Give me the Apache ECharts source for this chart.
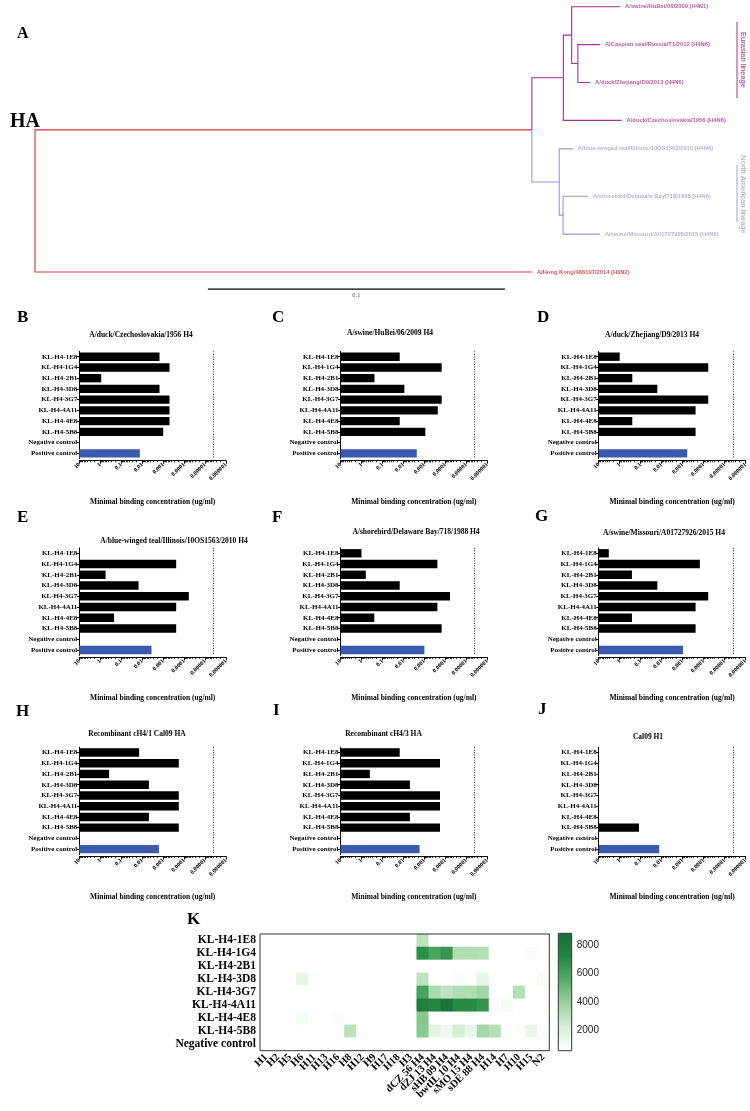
<!DOCTYPE html>
<html><head><meta charset="utf-8">
<script src="https://cdn.jsdelivr.net/npm/echarts@6/dist/echarts.min.js"></script>
<style>html,body{margin:0;padding:0;background:#fff}#c{width:750px;height:1111px}</style>
</head><body><div id="c"></div>
<script>
// ---------------- DATA ----------------
// Panel A: phylogenetic tree (HA)
const treeNodeIds      = ['root','H4','HK','EU','NA','EU1','CZ','EU2','HB','CS','ZJ','BW','NA1','SB','MO'];
const treeParents      = [null,'root','root','H4','H4','EU','EU','EU1','EU1','EU2','EU2','NA','NA','NA1','NA1'];
const treeBranchLength = [0,0.1673,0.1673,0.0106,0.0092,0.0028,0.0196,0.0021,0.0163,0.0074,0.0041,0.0046,0.0013,0.0084,0.0124];
const treeLeafRow      = [null,null,7,null,null,null,3,null,0,1,2,3.75,null,5,6];
const treeClade        = ['root','root','root','eu','na','eu','eu','eu','eu','eu','eu','na','na','na','na'];
const treeLabels       = ['','','A/Hong Kong/486197/2014 (H3N2)','','','','A/duck/Czechoslovakia/1956 (H4N6)','',
  'A/swine/HuBei/06/2009 (H4N1)','A/Caspian seal/Russia/T1/2012 (H4N6)','A/duck/Zhejiang/D9/2013 (H4N6)',
  'A/blue-winged teal/Illinois/10OS1563/2010 (H4N6)','','A/shorebird/Delaware Bay/718/1988 (H4N6)','A/swine/Missouri/A01727926/2015 (H4N6)'];
const scaleBarLength = 0.1;
const lineageNames = ['Eurasian lineage','North American lineage'];

// Panels B-J: minimal binding concentration (ug/ml); null = no binding
const antibodies = ['KL-H4-1E8','KL-H4-1G4','KL-H4-2B1','KL-H4-3D8','KL-H4-3G7','KL-H4-4A11','KL-H4-4E8','KL-H4-5B8','Negative control','Positive control'];
const concTickLabels = ['10','1','0.1','0.01','0.001','0.0001','0.00001','0.000001'];
const detectionLimit = 0.000004;
const panelTitles = ['A/duck/Czechoslovakia/1956 H4','A/swine/HuBei/06/2009 H4','A/duck/Zhejiang/D9/2013 H4',
  'A/blue-winged teal/Illinois/10OS1563/2010 H4','A/shorebird/Delaware Bay/718/1988 H4','A/swine/Missouri/A01727926/2015 H4',
  'Recombinant cH4/1 Cal09 HA','Recombinant cH4/3 HA','Cal09 H1'];
const panelLetters = ['B','C','D','E','F','G','H','I','J'];
const concB = [0.0015,0.0005,0.9,0.0015,0.0005,0.0005,0.0005,0.001,null,0.013];
const concC = [0.015,0.00015,0.24,0.009,0.00015,0.00023,0.015,0.0009,null,0.0023];
const concD = [1,0.00006,0.25,0.016,0.00006,0.00024,0.25,0.00024,null,0.0006];
const concE = [null,0.00024,0.56,0.015,0.00006,0.00024,0.22,0.00024,null,0.0036];
const concF = [1,0.00024,0.62,0.015,0.00006,0.00024,0.245,0.00015,null,0.001];
const concG = [3.3,0.00015,0.26,0.016,0.00006,0.00024,0.26,0.00024,null,0.00095];
const concH = [0.014,0.00018,0.38,0.0048,0.00018,0.00018,0.0048,0.00018,null,0.0016];
const concI = [0.015,0.00018,0.4,0.0049,0.00018,0.00018,0.0049,0.00018,null,0.0017];
const concJ = [null,null,null,null,null,null,null,0.12,null,0.013];
const axisTitle = 'Minimal binding concentration (ug/ml)';

// Panel K: heatmap
const heatCols = ['H1','H2','H5','H6','H11','H13','H16','H8','H12','H9','H17','H18','H3','dCZ 56 H4','dZJ 13 H4','sHB 09 H4','bwtIL 10 H4','sMO 15 H4','sDE 88 H4','H14','H7','H10','H15','N2'];
const heatRows = ['KL-H4-1E8','KL-H4-1G4','KL-H4-2B1','KL-H4-3D8','KL-H4-3G7','KL-H4-4A11','KL-H4-4E8','KL-H4-5B8','Negative control'];
const heat1E8  = [600,600,600,600,600,600,600,600,600,600,600,600,600,3000,600,600,600,600,600,600,600,600,600,600];
const heat1G4  = [600,600,600,600,600,600,600,600,600,600,600,600,600,6800,5900,6500,3300,3300,3200,600,600,600,850,600];
const heat2B1  = [600,600,600,600,600,600,600,600,600,600,600,600,600,600,600,600,600,600,600,600,600,600,600,600];
const heat3D8  = [600,600,600,1600,600,600,600,600,600,600,600,600,600,3000,600,600,850,600,1600,600,600,600,600,900];
const heat3G7  = [600,600,600,600,600,600,600,600,600,600,600,600,600,6000,3400,2900,3300,3300,3700,600,600,3200,600,600];
const heat4A11 = [600,600,600,600,600,600,600,600,600,600,600,600,600,7800,7200,8400,7000,7000,6600,600,950,600,600,600];
const heat4E8  = [600,600,600,1000,600,600,800,600,600,600,600,600,600,4400,600,600,600,600,600,600,600,600,600,600];
const heat5B8  = [600,600,600,600,600,600,600,3000,600,600,600,600,600,4300,1700,1300,2300,1500,3600,3200,600,600,1500,600];
const heatNeg  = [600,600,600,600,600,600,600,600,600,600,600,600,600,600,600,600,600,600,600,600,600,600,600,600];
const heatScaleMin = 587, heatScaleMax = 8827;
const heatScaleTicks = [2000,4000,6000,8000];

// ---------------- CHART ----------------
const SERIF = '"Liberation Serif","Times New Roman",serif';
const SANS = '"Liberation Sans",Arial,sans-serif';
const chart = echarts.init(document.getElementById('c'), null, {renderer:'canvas', width:750, height:1111});
const option = {animation:false, backgroundColor:'#fff', grid:[], xAxis:[], yAxis:[], series:[], graphic:[], visualMap:[]};

// ---- Panel A tree ----
const cladeColor = {root:'#d8353b', eu:'#a8328a', na:'#9d96d6'};
const cladeText  = {root:'#d3262b', eu:'#a8328a', na:'#a49dd8'};
option.grid.push({left:35, top:6.7, width:594, height:265.3});
option.xAxis.push({gridIndex:0, type:'value', min:0, max:0.2, show:false});
option.yAxis.push({gridIndex:0, type:'value', min:0, max:7, inverse:true, show:false});
const nN = treeNodeIds.length;
const tIdx = id => treeNodeIds.indexOf(id);
const tx = new Array(nN), ty = new Array(nN);
for (let i = 0; i < nN; i++) { const p = treeParents[i]; tx[i] = (p === null ? 0 : tx[tIdx(p)]) + treeBranchLength[i]; }
for (let i = nN - 1; i >= 0; i--) {
  if (treeLeafRow[i] !== null) ty[i] = treeLeafRow[i];
  else { const ch = []; for (let j = 0; j < nN; j++) if (treeParents[j] === treeNodeIds[i]) ch.push(ty[j]); ty[i] = (Math.min(...ch) + Math.max(...ch)) / 2; }
}
const branchData = [];
for (let i = 0; i < nN; i++) {
  if (treeParents[i] === null) continue;
  const p = tIdx(treeParents[i]);
  branchData.push({coords:[[tx[p],ty[p]],[tx[p],ty[i]],[tx[i],ty[i]]], lineStyle:{color:cladeColor[treeClade[i]], width:1.1, opacity:1}});
}
const scaleStart = 0.0582, scaleRow = 7.45;
branchData.push({coords:[[scaleStart,scaleRow],[scaleStart+scaleBarLength,scaleRow]], lineStyle:{color:'#000', width:1.2, opacity:1}});
option.series.push({type:'lines', coordinateSystem:'cartesian2d', xAxisIndex:0, yAxisIndex:0, polyline:true, clip:false, silent:true,
  lineStyle:{opacity:1, width:1.1}, data:branchData});
const leafData = [];
for (let i = 0; i < nN; i++) if (treeLeafRow[i] !== null) leafData.push({value:[tx[i],ty[i]], name:treeLabels[i], label:{color:cladeText[treeClade[i]]}});
option.series.push({type:'scatter', xAxisIndex:0, yAxisIndex:0, symbolSize:0, clip:false, silent:true, data:leafData,
  label:{show:true, position:'right', distance:5, formatter:'{b}', fontSize:5.8, fontWeight:'bold', fontFamily:SANS}});
option.series.push({type:'scatter', xAxisIndex:0, yAxisIndex:0, symbolSize:0, clip:false, silent:true,
  data:[{value:[scaleStart+scaleBarLength/2, scaleRow], name:String(scaleBarLength)}],
  label:{show:true, position:'bottom', distance:3, formatter:'{b}', fontSize:6.5, fontFamily:SERIF, color:'#222'}});
// lineage brackets
option.graphic.push({type:'line', shape:{x1:737, y1:22, x2:737, y2:98}, style:{stroke:cladeColor.eu, lineWidth:1}});
option.graphic.push({type:'text', x:743, y:60, rotation:-Math.PI/2, style:{text:lineageNames[0], fill:cladeColor.eu, font:'7.5px '+SANS, align:'center', verticalAlign:'middle', textAlign:'center', textVerticalAlign:'middle'}});
option.graphic.push({type:'line', shape:{x1:737, y1:165, x2:737, y2:222}, style:{stroke:cladeText.na, lineWidth:1}});
option.graphic.push({type:'text', x:743, y:194.5, rotation:-Math.PI/2, style:{text:lineageNames[1], fill:cladeText.na, font:'7.5px '+SANS, align:'center', verticalAlign:'middle', textAlign:'center', textVerticalAlign:'middle'}});
function addText(txt, x, y, font, align, color) {
  option.graphic.push({type:'text', x:x, y:y, style:{text:txt, fill:color||'#000', font:font, align:align||'left', verticalAlign:'middle', textAlign:align||'left', textVerticalAlign:'middle'}});
}
addText('A', 17, 34, 'bold 16px '+SERIF);
addText('HA', 10, 122, 'bold 20px '+SERIF);

// ---- Panels B-J ----
const panelConc = [concB,concC,concD,concE,concF,concG,concH,concI,concJ];
const colLeft = [79.3, 340.5, 598.7];
const rowY0 = [356.7, 553.3, 752.5];
const bandH = 10.74;
const plotW = 146.8;
const titleX = [141,390,652,174,416,664,137,383.5,648];
const titleY = [335,333.5,335,541,532.5,532.7,734.3,734.3,736.7];
const letterX = [17,272,537,17,272,535,16,273,538];
const letterY = [318,318,318,518,518,517,712,711,710];
// log-decade minor tick positions on the decade axis
const minorTicks = [];
for (let d = 0; d < 7; d++) for (let k = 9; k >= 2; k--) minorTicks.push(d + 1 - Math.log10(k));
for (let p = 0; p < 9; p++) {
  const col = p % 3, row = Math.floor(p / 3);
  const gi = option.grid.length;
  option.grid.push({left:colLeft[col], top:rowY0[row] - bandH/2, width:plotW, height:bandH*10});
  const xi = option.xAxis.length;
  option.xAxis.push({gridIndex:gi, type:'value', position:'bottom', min:0, max:7, interval:1, offset:2,
    axisLine:{show:true, lineStyle:{color:'#000', width:1}}, axisTick:{show:true, length:3, lineStyle:{color:'#000'}},
    splitLine:{show:false},
    axisLabel:{rotate:45, margin:3, fontSize:6, fontWeight:'bold', fontFamily:SERIF, color:'#000', formatter:v => concTickLabels[Math.round(v)]},
    name:axisTitle, nameLocation:'middle', nameGap:37, nameTextStyle:{fontSize:7.5, fontWeight:'bold', fontFamily:SERIF, color:'#000'}});
  option.xAxis.push({gridIndex:gi, type:'value', position:'bottom', min:0, max:7, offset:2,
    axisLine:{show:false}, splitLine:{show:false}, axisLabel:{show:false},
    axisTick:{show:true, length:1.6, customValues:minorTicks, lineStyle:{color:'#000', width:0.8}}});
  const yi = option.yAxis.length;
  option.yAxis.push({gridIndex:gi, type:'category', data:antibodies, inverse:true,
    axisLine:{show:true, lineStyle:{color:'#000', width:1}}, axisTick:{show:true, length:2.5, alignWithLabel:true, lineStyle:{color:'#000'}},
    axisLabel:{interval:0, margin:2, fontSize:7, fontWeight:'bold', fontFamily:SERIF, color:'#000'}});
  const vals = panelConc[p].map((c, i) => c === null ? '-' : {value: 1 - Math.log10(c),
    itemStyle: i === 9 ? {color:'#3b5aae'} : {color:'#000'}});
  option.series.push({type:'bar', xAxisIndex:xi, yAxisIndex:yi, data:vals, barWidth:'78%', silent:true,
    markLine:{silent:true, symbol:['none','none'], label:{show:false},
      lineStyle:{type:[1,1.5], color:'#333', width:1}, data:[{xAxis: 1 - Math.log10(detectionLimit)}]}});
  addText(panelLetters[p], letterX[p], letterY[p], 'bold 17px '+SERIF);
  addText(panelTitles[p], titleX[p], titleY[p], 'bold 7.5px '+SERIF, 'center');
}

// ---- Panel K heatmap ----
addText('K', 187, 920, 'bold 17px '+SERIF);
const heatMatrix = [heat1E8,heat1G4,heat2B1,heat3D8,heat3G7,heat4A11,heat4E8,heat5B8,heatNeg];
const heatData = [];
heatMatrix.forEach((rowVals, r) => rowVals.forEach((v, c) => heatData.push([c, r, v])));
const hg = option.grid.length;
option.grid.push({left:260, top:934, width:289.3, height:116.7, show:true, z:10, backgroundColor:'transparent', borderColor:'#333', borderWidth:1});
const hx = option.xAxis.length;
option.xAxis.push({gridIndex:hg, type:'category', data:heatCols, axisLine:{show:false}, axisTick:{show:false}, splitLine:{show:false},
  axisLabel:{interval:0, rotate:45, margin:5, fontSize:10.5, fontWeight:'bold', fontFamily:SERIF, color:'#000'}});
const hy = option.yAxis.length;
option.yAxis.push({gridIndex:hg, type:'category', data:heatRows, inverse:true, axisLine:{show:false}, axisTick:{show:false}, splitLine:{show:false},
  axisLabel:{interval:0, margin:4, fontSize:11.5, fontWeight:'bold', fontFamily:SERIF, color:'#000'}});
const heatSeriesIndex = option.series.length;
option.series.push({type:'heatmap', xAxisIndex:hx, yAxisIndex:hy, data:heatData, silent:true});
option.visualMap.push({type:'continuous', seriesIndex:heatSeriesIndex, min:heatScaleMin, max:heatScaleMax,
  calculable:false, orient:'vertical', left:558.3, top:933.3, itemWidth:13.4, itemHeight:117.4, padding:0, text:null, showLabel:false,
  inRange:{color:['#ffffff','#d8efd7','#9bd3a0','#55ae68','#23863f','#16703a']}});
// colorbar frame with ticks
const cg = option.grid.length;
option.grid.push({left:558.3, top:933.3, width:13.4, height:117.4, show:true, z:10, backgroundColor:'transparent', borderColor:'#333', borderWidth:1});
option.xAxis.push({gridIndex:cg, type:'value', min:0, max:1, show:false});
option.yAxis.push({gridIndex:cg, type:'value', position:'right', min:heatScaleMin, max:heatScaleMax,
  axisLine:{show:false}, splitLine:{show:false},
  axisTick:{show:true, length:3, customValues:heatScaleTicks, lineStyle:{color:'#333'}},
  axisLabel:{show:true, customValues:heatScaleTicks, margin:5, fontSize:10, fontFamily:SANS, color:'#222', formatter:v => String(v)}});

chart.setOption(option);
</script>
</body></html>
